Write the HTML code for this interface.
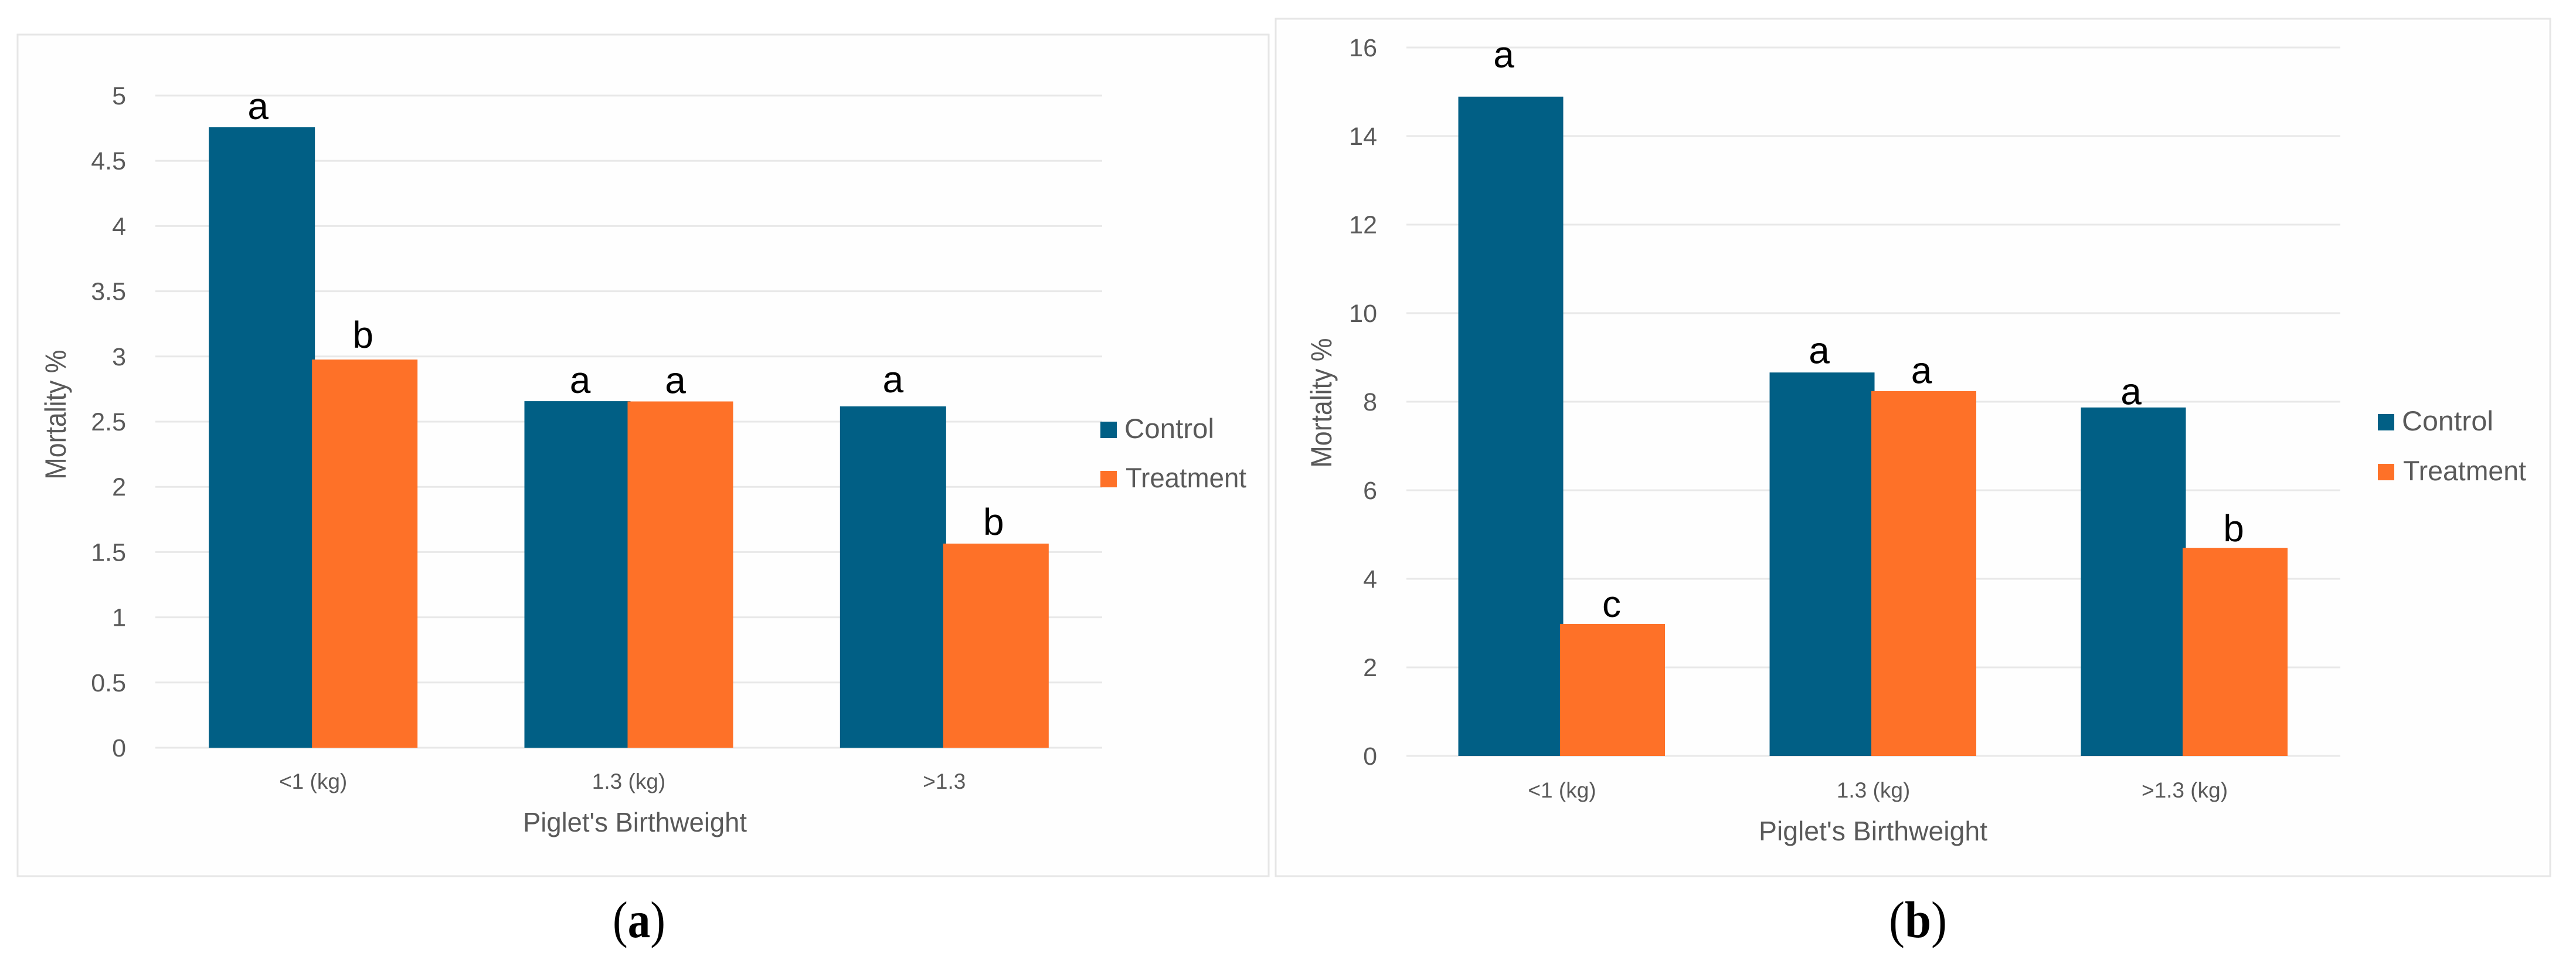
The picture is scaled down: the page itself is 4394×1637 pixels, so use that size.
<!DOCTYPE html>
<html lang="en">
<head>
<meta charset="utf-8">
<title>Piglet mortality by birthweight</title>
<style>
html,body{margin:0;padding:0;background:#ffffff;}
body{width:4394px;height:1637px;overflow:hidden;}
svg{display:block;}
text{font-family:"Liberation Sans",sans-serif;}
</style>
</head>
<body>
<svg id="figure" xmlns="http://www.w3.org/2000/svg" width="4394" height="1637" viewBox="0 0 4394 1637"></svg>
<script>
// Panel (a) data
const categoriesA = ['<1 (kg)', '1.3 (kg)', '>1.3'];
const controlA = [4.757, 2.657, 2.617];
const treatmentA = [2.976, 2.655, 1.565];
const controlLettersA = ['a', 'a', 'a'];
const treatmentLettersA = ['b', 'a', 'b'];
const tickLabelsA = ['0', '0.5', '1', '1.5', '2', '2.5', '3', '3.5', '4', '4.5', '5'];

// Panel (b) data
const categoriesB = ['<1 (kg)', '1.3 (kg)', '>1.3 (kg)'];
const controlB = [14.89, 8.66, 7.87];
const treatmentB = [2.98, 8.24, 4.70];
const controlLettersB = ['a', 'a', 'a'];
const treatmentLettersB = ['c', 'a', 'b'];
const tickLabelsB = ['0', '2', '4', '6', '8', '10', '12', '14', '16'];

const seriesNames = ['Control', 'Treatment'];

const svg = document.getElementById('figure');
const SVGNS = 'http://www.w3.org/2000/svg';

function add(tag, name, attrs, text) {
  const el = document.createElementNS(SVGNS, tag);
  
  
  for (const key in attrs) { el.setAttribute(key, attrs[key]); }
  if (text !== undefined) { el.textContent = text; }
  svg.appendChild(el);
  return el;
}

function drawChart(c) {
  const id = c.id;
  add('rect', 'chart-frame-' + id, {x: c.frame[0], y: c.frame[1], width: c.frame[2] - c.frame[0], height: c.frame[3] - c.frame[1], fill: '#fefefe', stroke: '#e6e6e6', 'stroke-width': 3});

  const maxTick = parseFloat(c.ticks[c.ticks.length - 1]);
  const yScale = v => c.plotBottom - (v / maxTick) * (c.plotBottom - c.plotTop);
  const band = (c.plotRight - c.plotLeft) / c.categories.length;
  const xScale = i => c.plotLeft + band * (i + 0.5);

  c.ticks.forEach(label => {
    const y = yScale(parseFloat(label));
    add('line', 'gridline-' + id + '-' + label, {x1: c.plotLeft, x2: c.plotRight, y1: y, y2: y, stroke: '#e8e8e8', 'stroke-width': 3});
    add('text', 'y-tick-label-' + id + '-' + label, {x: c.tickRight, y: y + 15, 'text-anchor': 'end', 'font-size': 43, fill: '#595959'}, label);
  });

  c.control.forEach((v, i) => {
    const top = yScale(v);
    add('rect', 'bar-control-' + id + '-' + (i + 1), {x: xScale(i) + c.controlOffset, y: top, width: c.controlWidth, height: c.plotBottom - top, fill: '#015f85'});
  });
  c.treatment.forEach((v, i) => {
    const top = yScale(v);
    add('rect', 'bar-treatment-' + id + '-' + (i + 1), {x: xScale(i) + c.treatmentOffset, y: top, width: c.treatmentWidth, height: c.plotBottom - top, fill: '#fe7128'});
  });

  c.control.forEach((v, i) => {
    const cx = xScale(i) + c.controlOffset + c.controlWidth / 2 + c.controlNudge[i];
    add('text', 'significance-letter-control-' + id + '-' + (i + 1), {x: cx, y: yScale(v + c.controlLift[i]), 'text-anchor': 'middle', 'font-size': 64, fill: '#000000'}, c.controlLetters[i]);
  });
  c.treatment.forEach((v, i) => {
    const cx = xScale(i) + c.treatmentOffset + c.treatmentWidth / 2 + c.treatmentNudge[i];
    add('text', 'significance-letter-treatment-' + id + '-' + (i + 1), {x: cx, y: yScale(v + c.treatmentLift[i]), 'text-anchor': 'middle', 'font-size': 64, fill: '#000000'}, c.treatmentLetters[i]);
  });

  c.categories.forEach((label, i) => {
    add('text', 'x-tick-label-' + id + '-' + (i + 1), {x: xScale(i), y: c.xTickBaseline, 'text-anchor': 'middle', 'font-size': 37, fill: '#595959'}, label);
  });

  add('text', 'x-axis-title-' + id, {x: c.xTitleX, y: c.xTitleBaseline, 'text-anchor': 'middle', 'font-size': 46, textLength: c.xTitleWidth, lengthAdjust: 'spacingAndGlyphs', fill: '#595959'}, "Piglet's Birthweight");

  add('text', 'y-axis-title-' + id, {x: 0, y: 0, transform: 'translate(' + c.yTitleX + ' ' + c.yTitleY + ') rotate(-90)', 'text-anchor': 'middle', 'font-size': 50, textLength: 221, lengthAdjust: 'spacingAndGlyphs', fill: '#595959'}, 'Mortality %');

  seriesNames.forEach((name, i) => {
    add('rect', 'legend-swatch-' + id + '-' + name.toLowerCase(), {x: c.legendX, y: c.legendY[i] - 28, width: 28, height: 28, fill: i === 0 ? '#015f85' : '#fe7128'});
    add('text', 'legend-label-' + id + '-' + name.toLowerCase(), {x: c.legendX + 41 + i * 2, y: c.legendY[i], 'font-size': 47, textLength: c.legendWidths[i], lengthAdjust: 'spacingAndGlyphs', fill: '#595959'}, name);
  });
}

drawChart({
  id: 'a', categories: categoriesA, control: controlA, treatment: treatmentA,
  controlLetters: controlLettersA, treatmentLetters: treatmentLettersA, ticks: tickLabelsA,
  frame: [30, 59, 2164, 1494],
  plotLeft: 265, plotRight: 1880, plotTop: 163, plotBottom: 1275, tickRight: 215,
  controlOffset: -178, controlWidth: 181, treatmentOffset: -2, treatmentWidth: 180,
  controlLift: [0.063, 0.063, 0.108], treatmentLift: [0.09, 0.063, 0.067],
  controlNudge: [-6.5, 4.5, 0], treatmentNudge: [-3, -8.5, -4],
  xTickBaseline: 1345, xTitleX: 1083, xTitleBaseline: 1418, xTitleWidth: 382,
  yTitleX: 112, yTitleY: 707,
  legendX: 1877, legendY: [747, 831], legendWidths: [153, 206]
});

drawChart({
  id: 'b', categories: categoriesB, control: controlB, treatment: treatmentB,
  controlLetters: controlLettersB, treatmentLetters: treatmentLettersB, ticks: tickLabelsB,
  frame: [2176, 32, 4350, 1494],
  plotLeft: 2399, plotRight: 3992, plotTop: 81, plotBottom: 1289, tickRight: 2349,
  controlOffset: -177, controlWidth: 179, treatmentOffset: -3.5, treatmentWidth: 179,
  controlLift: [0.66, 0.21, 0.07], treatmentLift: [0.16, 0.18, 0.15],
  controlNudge: [-12, -5, -4], treatmentNudge: [-1.5, -4, -2.5],
  xTickBaseline: 1360, xTitleX: 3195, xTitleBaseline: 1433, xTitleWidth: 390,
  yTitleX: 2271, yTitleY: 687,
  legendX: 4056, legendY: [734, 819], legendWidths: [156, 210]
});

function caption(name, x, width, letter) {
  const t = add('text', name, {x: x, y: 1598, 'font-size': 88, textLength: width, lengthAdjust: 'spacingAndGlyphs', fill: '#000000', style: 'font-family:"Liberation Serif",serif'});
  t.appendChild(document.createTextNode('('));
  const b = document.createElementNS(SVGNS, 'tspan');
  
  
  b.setAttribute('font-weight', 'bold');
  b.textContent = letter;
  t.appendChild(b);
  t.appendChild(document.createTextNode(')'));
}
caption('panel-caption-a', 1045, 90, 'a');
caption('panel-caption-b', 3222, 99, 'b');
</script>
</body>
</html>
